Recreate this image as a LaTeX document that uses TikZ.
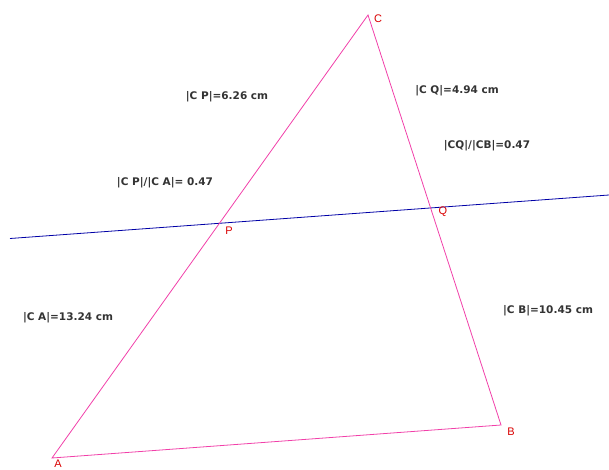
\documentclass[tikz,border=0pt]{standalone}
\usepackage{fontspec}
\setmainfont{Liberation Sans}
\newfontfamily\measfont{DejaVu Sans}
\begin{document}
\begin{tikzpicture}[x=1pt,y=-1pt,
  seg/.style={draw=magenta!75!white, line width=0.8pt},
  par/.style={draw=blue!65!black, line width=0.8pt},
  pt/.style={inner sep=0pt, text=red!85!black, font=\fontsize{11}{12}\selectfont},
  meas/.style={inner sep=0pt, font=\measfont\bfseries\fontsize{10.5}{12}\selectfont, text=black!80}]
\useasboundingbox (0,0) rectangle (609,470);
\coordinate (A) at (52,458);
\coordinate (B) at (501,425);
\coordinate (C) at (368,15);
\coordinate (P) at (219.5,223);
\coordinate (Q) at (430.5,207.7);
\coordinate (L1) at (10,238.5);
\coordinate (L2) at (609,195);
\draw[par] (L1) -- (L2);
\draw[seg] (A) -- (B) -- (C) -- cycle;
\node[pt] (lA) at (58,464) {A};
\node[pt] (lB) at (511,432) {B};
\node[pt] (lC) at (378,19) {C};
\node[pt] (lP) at (229,231) {P};
\node[pt] (lQ) at (443,212) {Q};
\node[meas] (m1) at (227,97) {|C P|=6.26 cm};
\node[meas] (m2) at (457,91) {|C Q|=4.94 cm};
\node[meas] (m3) at (487,146) {|CQ|/|CB|=0.47};
\node[meas] (m4) at (165,183) {|C P|/|C A|= 0.47};
\node[meas] (m5) at (68,318) {|C A|=13.24 cm};
\node[meas] (m6) at (548,311) {|C B|=10.45 cm};
\end{tikzpicture}
\end{document}
